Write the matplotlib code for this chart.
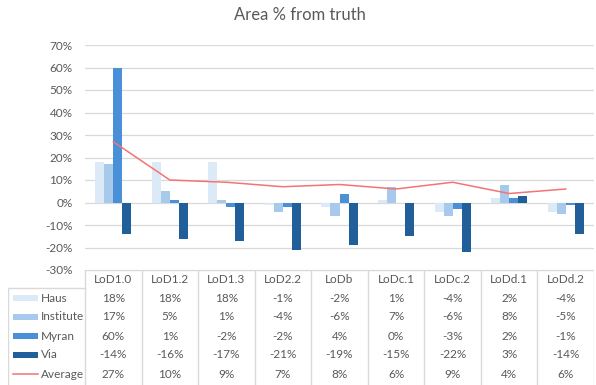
import numpy as np
import matplotlib.pyplot as plt
from matplotlib.ticker import FuncFormatter

plt.rcParams['font.family'] = ['Lato', 'DejaVu Sans']

categories = ['LoD1.0', 'LoD1.2', 'LoD1.3', 'LoD2.2', 'LoDb', 'LoDc.1', 'LoDc.2', 'LoDd.1', 'LoDd.2']
series_names = ['Haus', 'Institute', 'Myran', 'Via']
haus = [18, 18, 18, -1, -2, 1, -4, 2, -4]
institute = [17, 5, 1, -4, -6, 7, -6, 8, -5]
myran = [60, 1, -2, -2, 4, 0, -3, 2, -1]
via = [-14, -16, -17, -21, -19, -15, -22, 3, -14]
average = [27, 10, 9, 7, 8, 6, 9, 4, 6]
yticks = [-30, -20, -10, 0, 10, 20, 30, 40, 50, 60, 70]

colors = ['#DCE9F7', '#A6C9EC', '#4A90D9', '#215F9A']
avg_color = '#F27474'
text_color = '#595959'
grid_color = '#D9D9D9'

W, H = 596, 385
fig = plt.figure(figsize=(W / 100, H / 100), dpi=100)

# pixel layout
ax_l, ax_r, ax_t, ax_b = 85, 594, 45, 270
ax = fig.add_axes([ax_l / W, 1 - ax_b / H, (ax_r - ax_l) / W, (ax_b - ax_t) / H])

x = np.arange(len(categories))
bw = 0.16
all_series = [haus, institute, myran, via]
for i, vals in enumerate(all_series):
    ax.bar(x + (i - 1.5) * bw, vals, width=bw, color=colors[i], zorder=3)
ax.plot(x, average, color=avg_color, lw=1.1, zorder=4)

ax.set_xlim(-0.5, len(categories) - 0.5)
ax.set_ylim(-30, 70)
ax.set_yticks(yticks)
ax.yaxis.set_major_formatter(FuncFormatter(lambda v, p: f'{v:.0f}%'))
ax.tick_params(axis='y', length=0, pad=9, labelsize=8.5, labelcolor=text_color)
ax.set_xticks([])
ax.grid(axis='y', color=grid_color, lw=0.9, zorder=0)
for s in ax.spines.values():
    s.set_visible(False)

fig.text(0.503, 1 - 15 / H, 'Area % from truth', ha='center', va='center',
         fontsize=12, color=text_color)

# data table underneath, x units shared with the bar axes
unit = (ax_r - ax_l) / len(categories)
tl = 8
tax = fig.add_axes([tl / W, 0, (ax_r - tl) / W, 1 - ax_b / H])
tax.set_xlim(-0.5 - (ax_l - tl) / unit, len(categories) - 0.5)
tax.set_ylim(H, ax_b)
tax.axis('off')
left = -0.5 - (ax_l - tl) / unit

lc = dict(color=grid_color, lw=1.0)
tax.plot([-0.5, len(categories) - 0.5], [ax_b, ax_b], **lc)
for k in range(len(categories) + 1):
    tax.plot([k - 0.5, k - 0.5], [ax_b, H], **lc)
tax.plot([left, -0.5], [288, 288], **lc)
tax.plot([left, left], [288, H], **lc)

for j, c in enumerate(categories):
    tax.text(j, 279.5, c, ha='center', va='center', fontsize=8.5, color=text_color)

row_y = [298, 317, 336, 355, 374]
rows = all_series + [average]
names = series_names + ['Average']
key_l = left + (13 - tl) / unit
key_r = left + (38 - tl) / unit
for r, (name, vals) in enumerate(zip(names, rows)):
    y = row_y[r]
    if r < 4:
        tax.fill_between([key_l, key_r], y - 3, y + 3, color=colors[r], lw=0)
    else:
        tax.plot([key_l, key_r], [y, y], color=avg_color, lw=1.1)
    tax.text(left + (41 - tl) / unit, y, name, ha='left', va='center',
             fontsize=8.5, color=text_color)
    for j, v in enumerate(vals):
        tax.text(j, y, f'{v}%', ha='center', va='center', fontsize=8.5, color=text_color)

fig.savefig('out.png', dpi=100)
